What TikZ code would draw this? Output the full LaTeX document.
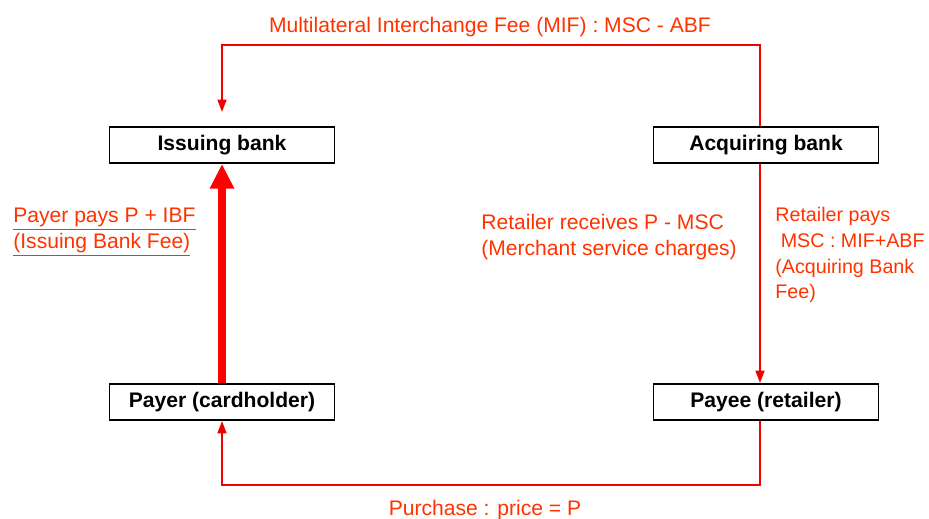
\documentclass[tikz,border=0pt]{standalone}
\usepackage{fontspec}
\setmainfont{Liberation Sans}
\usetikzlibrary{positioning}
\usetikzlibrary{arrows.meta}
\definecolor{feered}{RGB}{255,51,0}
\definecolor{flowred}{RGB}{240,0,0}

\begin{document}
\begin{tikzpicture}
[x=0.02cm, y=-0.02cm, >={Triangle[length=7pt,width=5pt]},
 party/.style={draw, line width=1.1pt, minimum width=4.5cm, minimum height=0.72cm,
   inner sep=0pt, font=\bfseries\fontsize{12}{14}\selectfont},
 flow/.style={draw=flowred, line width=1.1pt},
 fee/.style={text=feered, align=left, inner sep=0pt, font=\fontsize{12}{14.7}\selectfont}]

\useasboundingbox (0,0) rectangle (929,519);

% Banks and parties:
\node[party] (issuer)   at (222,145) {Issuing bank};
\node[party] (acquirer) at (766,145) {Acquiring bank};
\node[party] (payer)    at (222,402) {Payer (cardholder)};
\node[party] (payee)    at (766,402) {Payee (retailer)};

% Flows of money:
\draw[flow,->] ([xshift=-0.12cm]acquirer.north) -- ++(0,-81) coordinate (mifcorner)
  -| ([yshift=0.28cm]issuer.north);
\draw[flow,->] ([xshift=-0.12cm]acquirer.south) -- ([xshift=-0.12cm]payee.north);
\draw[flow,->] ([xshift=-0.12cm]payee.south) -- ++(0,64) -| (payer.south);
\draw[draw=red, line width=4pt, -{Triangle[length=14pt,width=13pt]}]
  (payer.north) -- (issuer.south);

% Labels:
\node[fee, anchor=center] (mif) at (490,27) {Multilateral Interchange Fee (MIF) : MSC - ABF};
\node[fee, anchor=west] (ibf) at (13,232)
  {\underline{Payer pays P + IBF}\\\underline{(Issuing Bank Fee)}};
\node[fee, anchor=west] (msc) at (481,237)
  {Retailer receives P - MSC\\(Merchant service charges)};
\node[fee, anchor=west, font=\fontsize{11.2}{14.7}\selectfont] (abf) at (775,255)
  {Retailer pays\\\ MSC : MIF+ABF\\(Acquiring Bank\\Fee)};
\node[fee, anchor=north] (price) at (485,500) {Purchase : price = P};

\end{tikzpicture}
\end{document}
